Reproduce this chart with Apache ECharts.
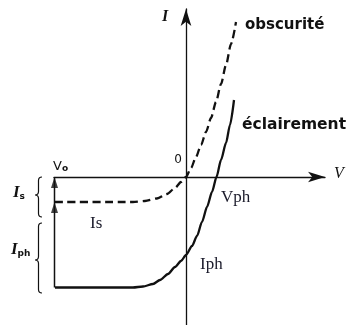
<!DOCTYPE html>
<html>
<head>
<meta charset="utf-8">
<script src="https://cdn.jsdelivr.net/npm/echarts@6/dist/echarts.min.js"></script>
<style>
  html, body { margin: 0; padding: 0; background: #fff; }
  #chart { width: 355px; height: 325px; }
</style>
</head>
<body>
<div id="chart"></div>
<script>
// I(V) characteristic of the junction in the dark (obscurité)
const darkV = [-13.1, -5.3, -4.1, -2.9, -1.9, -1.1, -0.5, 0, 0.5, 1.0, 1.5, 2.0, 2.5, 3.0, 3.5, 4.0, 4.5, 5.0];
const darkI = [-2.5, -2.5, -2.4, -2.15, -1.7, -1.1, -0.5, 0, 0.9, 2.0, 3.2, 4.5, 5.9, 7.5, 9.3, 11.2, 13.3, 15.5];

// I(V) characteristic under illumination (éclairement)
const lightV = [-13.1, -5.3, -4.3, -3.3, -2.6, -1.8, -1.1, -0.5, 0, 0.6, 1.1, 1.6, 2.1, 2.6, 3.05, 3.5, 4.0, 4.4, 4.8];
const lightI = [-11.05, -11.05, -10.95, -10.7, -10.3, -9.7, -9.0, -8.4, -7.8, -6.9, -5.9, -4.5, -3.0, -1.5, 0, 1.7, 3.4, 5.2, 7.7];

// Reverse bias V0 and the two current levels read there
const V0 = -13.15;
const levelIs = -2.5;
const levelIph = -11.05;

// Vertical extent of the two braces beside the current labels (top, cusp, bottom)
const braceTop = [0, -4.6];
const braceCusp = [-1.8, -8.3];
const braceBottom = [-4.0, -11.6];

const zip = (xs, ys) => xs.map((x, i) => [x, ys[i]]);

const ink = '#111';
const serif = '"Liberation Serif", "DejaVu Serif", serif';
const sans = '"DejaVu Sans", "Liberation Sans", sans-serif';

const chart = echarts.init(document.getElementById('chart'), null, { renderer: 'canvas' });

chart.setOption({
  animation: false,
  backgroundColor: '#fff',
  grid: { left: 54, right: 30, top: 9, bottom: 0, containLabel: false },
  xAxis: {
    type: 'value', min: -13.2, max: 13.9,
    axisLine: { onZero: true, symbol: ['none', 'arrow'], symbolSize: [8, 17], lineStyle: { color: ink, width: 1.3 } },
    axisTick: { show: false }, axisLabel: { show: false }, splitLine: { show: false }
  },
  yAxis: {
    type: 'value', min: -14.8, max: 16.8,
    axisLine: { onZero: true, symbol: ['none', 'arrow'], symbolSize: [8, 17], lineStyle: { color: ink, width: 1.3 } },
    axisTick: { show: false }, axisLabel: { show: false }, splitLine: { show: false }
  },
  series: [
    {
      name: 'obscurité', type: 'line', data: zip(darkV, darkI),
      smooth: 0.25, smoothMonotone: 'x', showSymbol: false, symbol: 'none',
      lineStyle: { color: ink, width: 2.3, type: [8, 4.5] }, z: 3
    },
    {
      name: 'éclairement', type: 'line', data: zip(lightV, lightI),
      smooth: 0.25, smoothMonotone: 'x', showSymbol: false, symbol: 'none',
      lineStyle: { color: ink, width: 2.3 }, z: 3
    },
    {
      // current scale at V0
      type: 'line', data: [[V0, levelIph], [V0, 0]], showSymbol: false, symbol: 'none',
      lineStyle: { color: ink, width: 1.5 }, z: 2
    },
    {
      type: 'scatter', data: [[V0, 0], [V0, levelIs]],
      symbol: 'triangle', symbolSize: [7, 11], symbolOffset: [0, '50%'],
      itemStyle: { color: ink }, z: 4
    },
    {
      type: 'custom', clip: false, z: 2,
      data: braceTop.map((t, i) => [t, braceCusp[i], braceBottom[i]]),
      renderItem: function (params, api) {
        const p0 = api.coord([V0, api.value(0)]);
        const pm = api.coord([V0, api.value(1)]);
        const p1 = api.coord([V0, api.value(2)]);
        const x = p0[0] - 16, y0 = p0[1], ym = pm[1], y1 = p1[1], w = 3.5;
        const d = 'M' + (x + w) + ' ' + y0 +
          ' Q' + x + ' ' + y0 + ' ' + x + ' ' + (y0 + w) +
          ' L' + x + ' ' + (ym - w) +
          ' Q' + x + ' ' + ym + ' ' + (x - w) + ' ' + ym +
          ' Q' + x + ' ' + ym + ' ' + x + ' ' + (ym + w) +
          ' L' + x + ' ' + (y1 - w) +
          ' Q' + x + ' ' + y1 + ' ' + (x + w) + ' ' + y1;
        return {
          type: 'path',
          shape: { pathData: d },
          style: { stroke: ink, fill: 'none', lineWidth: 1.2 }
        };
      }
    }
  ],
  graphic: [
    { type: 'text', x: 165, y: 17, style: { text: 'I', font: 'italic bold 16px ' + serif, fill: ink, align: 'center', verticalAlign: 'middle' } },
    { type: 'text', x: 339, y: 174, style: { text: 'V', font: 'italic 16px ' + serif, fill: ink, align: 'center', verticalAlign: 'middle' } },
    { type: 'text', x: 178, y: 160, style: { text: '0', font: '12px ' + sans, fill: ink, align: 'center', verticalAlign: 'middle' } },
    { type: 'text', x: 53, y: 167, style: {
        text: '{v|V}{o|o}', verticalAlign: 'middle',
        rich: { v: { font: '13px ' + sans, fill: ink, verticalAlign: 'bottom' },
                o: { font: 'bold 9px ' + sans, fill: ink, verticalAlign: 'bottom' } } } },
    { type: 'text', x: 245, y: 25, style: { text: 'obscurité', font: 'bold 15px ' + sans, fill: ink, align: 'left', verticalAlign: 'middle' } },
    { type: 'text', x: 242, y: 125, style: { text: 'éclairement', font: 'bold 15.5px ' + sans, fill: ink, align: 'left', verticalAlign: 'middle' } },
    { type: 'text', x: 221, y: 198, style: { text: 'Vph', font: '17px ' + serif, fill: '#1b1b2b', align: 'left', verticalAlign: 'middle' } },
    { type: 'text', x: 90, y: 224, style: { text: 'Is', font: '17px ' + serif, fill: '#1b1b2b', align: 'left', verticalAlign: 'middle' } },
    { type: 'text', x: 200, y: 265, style: { text: 'Iph', font: '17px ' + serif, fill: '#1b1b2b', align: 'left', verticalAlign: 'middle' } },
    { type: 'text', x: 13, y: 193, style: {
        text: '{i|I}{s|s}', verticalAlign: 'middle',
        rich: { i: { font: 'italic bold 17px ' + serif, fill: ink, verticalAlign: 'bottom' },
                s: { font: 'bold 9px ' + sans, fill: ink, verticalAlign: 'bottom' } } } },
    { type: 'text', x: 11, y: 250, style: {
        text: '{i|I}{s|ph}', verticalAlign: 'middle',
        rich: { i: { font: 'italic bold 17px ' + serif, fill: ink, verticalAlign: 'bottom' },
                s: { font: 'bold 9px ' + sans, fill: ink, verticalAlign: 'bottom' } } } }
  ]
});
</script>
</body>
</html>
